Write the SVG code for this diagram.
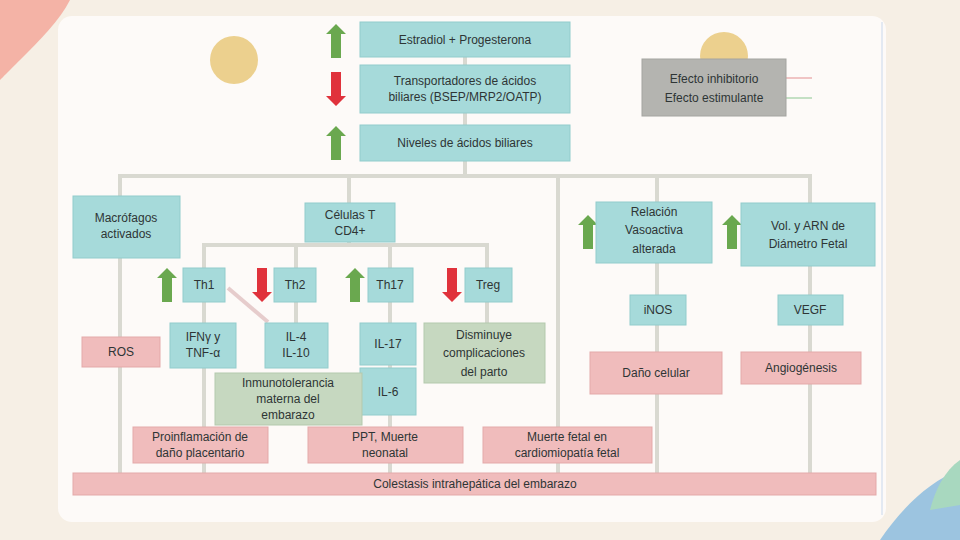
<svg xmlns="http://www.w3.org/2000/svg" width="960" height="540" viewBox="0 0 960 540">
<style>
text{font-family:"Liberation Sans Narrow","Liberation Sans",Arial,sans-serif;font-size:12px;fill:#2e3535;text-anchor:middle}
.t{fill:#a6dada;stroke:#92cccc;stroke-width:1}
.p{fill:#f0bcbc;stroke:#e4a9a9;stroke-width:1}
.g{fill:#c6d8c0;stroke:#b4c9ad;stroke-width:1}
.c{stroke:#d9d9d1;stroke-width:4;fill:none}
.up{fill:#6aa84f}
.dn{fill:#e0323c}
</style>
<defs>
<path id="upA" d="M10 0 L20 10 L15 10 L15 34 L5 34 L5 10 L0 10 Z"/>
<path id="dnA" d="M5 0 L15 0 L15 24 L20 24 L10 34 L0 24 L5 24 Z"/>
</defs>
<rect width="960" height="540" fill="#f6efe5"/>
<path d="M0 0 L70 0 C60 20 40 40 20 60 C10 70 0 80 0 80 Z" fill="#f4b3a6"/>
<path d="M960 470 C930 480 900 510 880 540 L960 540 Z" fill="#9cc4e0"/>
<path d="M960 460 C945 470 935 490 930 510 L960 505 Z" fill="#a8d8bf"/>
<rect x="58" y="16" width="828" height="506" rx="14" fill="#fdfaf8"/>
<line x1="882" y1="22" x2="882" y2="515" stroke="#e3e9f2" stroke-width="2"/>
<circle cx="234" cy="60" r="24" fill="#ecd08e"/>
<circle cx="724" cy="56" r="24" fill="#ecd08e"/>

<g id="connectors">
<line class="c" x1="465" y1="57" x2="465" y2="65" stroke="#e8c8c8"/>
<line class="c" x1="465" y1="113" x2="465" y2="125"/>
<line class="c" x1="465" y1="161" x2="465" y2="176"/>
<polyline class="c" points="120,196 120,176 810,176 810,203"/>
<line class="c" x1="349" y1="176" x2="349" y2="203"/>
<line class="c" x1="558" y1="176" x2="558" y2="473"/>
<line class="c" x1="657" y1="176" x2="657" y2="202"/>
<polyline class="c" points="204,268 204,245 487,245 487,268"/>
<line class="c" x1="349" y1="242" x2="349" y2="245"/>
<line class="c" x1="296" y1="245" x2="296" y2="268"/>
<line class="c" x1="390" y1="245" x2="390" y2="268"/>
<line class="c" x1="120" y1="258" x2="120" y2="473"/>
<line class="c" x1="204" y1="302" x2="204" y2="323"/>
<line class="c" x1="204" y1="368" x2="204" y2="427"/>
<line class="c" x1="296" y1="302" x2="296" y2="323"/>
<line class="c" x1="390" y1="302" x2="390" y2="323"/>
<line class="c" x1="390" y1="365" x2="390" y2="368"/>
<line class="c" x1="390" y1="415" x2="390" y2="427"/>
<line class="c" x1="390" y1="463" x2="390" y2="473"/>
<line class="c" x1="487" y1="302" x2="487" y2="323"/>
<line x1="228" y1="288" x2="268" y2="322" stroke="#e6cccc" stroke-width="4"/>
<line class="c" x1="657" y1="263" x2="657" y2="295"/>
<line class="c" x1="657" y1="325" x2="657" y2="352"/>
<line class="c" x1="657" y1="394" x2="657" y2="473"/>
<line class="c" x1="810" y1="266" x2="810" y2="295"/>
<line class="c" x1="810" y1="325" x2="810" y2="352"/>
<line class="c" x1="810" y1="384" x2="810" y2="473"/>
<line class="c" x1="204" y1="463" x2="204" y2="473"/>
<line x1="786" y1="78" x2="812" y2="78" stroke="#f0c4c4" stroke-width="2"/>
<line x1="786" y1="98" x2="812" y2="98" stroke="#c4e0c4" stroke-width="2"/>
</g>

<g id="estradiol"><use href="#upA" class="up" x="326" y="24"/><rect class="t" x="360" y="22" width="210" height="35"/><text x="465" y="44">Estradiol + Progesterona</text></g>
<g id="transportadores"><use href="#dnA" class="dn" x="326" y="72"/><rect class="t" x="360" y="65" width="210" height="48"/><text x="465" y="85">Transportadores de ácidos</text><text x="465" y="101">biliares (BSEP/MRP2/OATP)</text></g>
<g id="niveles"><use href="#upA" class="up" x="326" y="126"/><rect class="t" x="360" y="125" width="210" height="36"/><text x="465" y="147">Niveles de ácidos biliares</text></g>
<g id="leyenda"><rect x="642" y="59" width="144" height="57" fill="#b4b4b0" stroke="#a4a4a0"/><text x="714" y="83">Efecto inhibitorio</text><text x="714" y="102">Efecto estimulante</text></g>

<g id="macrofagos"><rect class="t" x="73" y="196" width="107" height="62"/><text x="126" y="222">Macrófagos</text><text x="126" y="238">activados</text></g>
<g id="celulasT"><rect class="t" x="305" y="203" width="90" height="39"/><text x="350" y="219">Células T</text><text x="350" y="235">CD4+</text></g>
<g id="th1"><use href="#upA" class="up" x="157" y="268"/><rect class="t" x="183" y="268" width="42" height="34"/><text x="204" y="289">Th1</text></g>
<g id="th2"><use href="#dnA" class="dn" x="252" y="268"/><rect class="t" x="274" y="268" width="42" height="34"/><text x="295" y="289">Th2</text></g>
<g id="th17"><use href="#upA" class="up" x="345" y="268"/><rect class="t" x="368" y="268" width="45" height="34"/><text x="390" y="289">Th17</text></g>
<g id="treg"><use href="#dnA" class="dn" x="442" y="268"/><rect class="t" x="465" y="268" width="47" height="34"/><text x="488" y="289">Treg</text></g>

<g id="ros"><rect class="p" x="82" y="337" width="78" height="30"/><text x="121" y="356">ROS</text></g>
<g id="ifn"><rect class="t" x="170" y="323" width="66" height="45"/><text x="203" y="341">IFNγ y</text><text x="203" y="357">TNF-α</text></g>
<g id="il4"><rect class="t" x="265" y="323" width="63" height="45"/><text x="296" y="341">IL-4</text><text x="296" y="357">IL-10</text></g>
<g id="il17"><rect class="t" x="360" y="323" width="56" height="42"/><text x="388" y="348">IL-17</text></g>
<g id="il6"><rect class="t" x="360" y="368" width="56" height="47"/><text x="388" y="396">IL-6</text></g>
<g id="disminuye"><rect class="g" x="424" y="323" width="121" height="60"/><text x="484" y="339">Disminuye</text><text x="484" y="357">complicaciones</text><text x="484" y="376">del parto</text></g>
<g id="inmuno"><rect class="g" x="215" y="373" width="147" height="52"/><text x="288" y="387">Inmunotolerancia</text><text x="288" y="403">materna del</text><text x="288" y="419">embarazo</text></g>

<g id="relacion"><use href="#upA" class="up" x="578" y="215"/><rect class="t" x="596" y="202" width="116" height="61"/><text x="654" y="216">Relación</text><text x="654" y="234">Vasoactiva</text><text x="654" y="253">alterada</text></g>
<g id="vol"><use href="#upA" class="up" x="722" y="215"/><rect class="t" x="741" y="203" width="134" height="63"/><text x="808" y="230">Vol. y ARN de</text><text x="808" y="248">Diámetro Fetal</text></g>
<g id="inos"><rect class="t" x="630" y="295" width="56" height="30"/><text x="658" y="314">iNOS</text></g>
<g id="vegf"><rect class="t" x="778" y="295" width="65" height="30"/><text x="810" y="314">VEGF</text></g>
<g id="dano"><rect class="p" x="590" y="352" width="132" height="42"/><text x="656" y="377">Daño celular</text></g>
<g id="angio"><rect class="p" x="741" y="352" width="120" height="32"/><text x="801" y="372">Angiogénesis</text></g>

<g id="proinflamacion"><rect class="p" x="133" y="427" width="135" height="36"/><text x="200" y="441">Proinflamación de</text><text x="200" y="457">daño placentario</text></g>
<g id="ppt"><rect class="p" x="308" y="427" width="155" height="36"/><text x="385" y="441">PPT, Muerte</text><text x="385" y="457">neonatal</text></g>
<g id="muerte"><rect class="p" x="483" y="427" width="169" height="36"/><text x="567" y="441">Muerte fetal en</text><text x="567" y="457">cardiomiopatía fetal</text></g>
<g id="colestasis"><rect class="p" x="73" y="473" width="803" height="22"/><text x="475" y="488">Colestasis intrahepática del embarazo</text></g>
</svg>
